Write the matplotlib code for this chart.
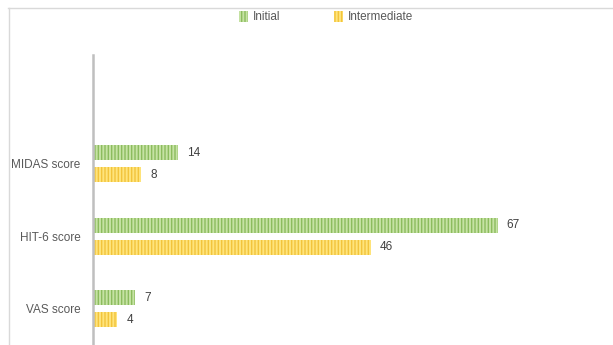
import matplotlib.pyplot as plt
from matplotlib.patches import Patch
from matplotlib.lines import Line2D

# data
categories = ['VAS score', 'HIT-6 score', 'MIDAS score', '']
initial = [7, 67, 14, None]
intermediate = [4, 46, 8, None]
series_names = ['Initial', 'Intermediate']

green_fill, green_stripe = '#c6e3a4', '#8cbc5e'
yellow_fill, yellow_stripe = '#ffe47c', '#f2c43c'
text_col = '#595959'

plt.rcParams['font.family'] = ['Liberation Sans', 'DejaVu Sans']
plt.rcParams['hatch.linewidth'] = 1.0

W, H = 613, 345
fig = plt.figure(figsize=(W / 100, H / 100), dpi=100)
ax = fig.add_axes([93 / W, 0, (576 - 93) / W, (H - 55) / H])

bar_h = 0.205
off = 0.15
ys = list(range(len(categories)))
for i, y in enumerate(ys):
    if initial[i] is None:
        continue
    ax.barh(y + off, initial[i], height=bar_h, color=green_fill,
            edgecolor=green_stripe, linewidth=0, hatch='|||||')
    ax.barh(y - off, intermediate[i], height=bar_h, color=yellow_fill,
            edgecolor=yellow_stripe, linewidth=0, hatch='|||||')
    ax.text(initial[i] + 1.5, y + off, str(initial[i]), va='center',
            ha='left', fontsize=8.5, color='#404040')
    ax.text(intermediate[i] + 1.5, y - off, str(intermediate[i]), va='center',
            ha='left', fontsize=8.5, color='#404040')

ax.set_xlim(0, 80)
ax.set_ylim(-0.5, len(categories) - 0.5)
ax.set_yticks(ys)
ax.set_yticklabels(categories, fontsize=8.5, color=text_col)
ax.tick_params(axis='y', length=0, pad=9)
ax.set_xticks([])
for s in ['top', 'right', 'bottom']:
    ax.spines[s].set_visible(False)
ax.spines['left'].set_color('#bfbfbf')
ax.spines['left'].set_linewidth(1.8)

# legend
handles = [Patch(facecolor=green_fill, edgecolor=green_stripe, linewidth=0, hatch='|||||'),
           Patch(facecolor=yellow_fill, edgecolor=yellow_stripe, linewidth=0, hatch='|||||')]
fig.legend(handles, series_names, loc='center', bbox_to_anchor=(326 / W, 1 - 17 / H),
           ncol=2, frameon=False, fontsize=8.5, labelcolor=text_col,
           handlelength=0.8, handleheight=1.1, handletextpad=0.4, columnspacing=4.5)

# chart border (partly cropped)
fig.add_artist(Line2D([8 / W, 1], [1 - 7.5 / H, 1 - 7.5 / H], color='#d9d9d9', lw=1))
fig.add_artist(Line2D([8.5 / W, 8.5 / W], [0, 1 - 7.5 / H], color='#d9d9d9', lw=1))

fig.savefig('out.png', dpi=100)
